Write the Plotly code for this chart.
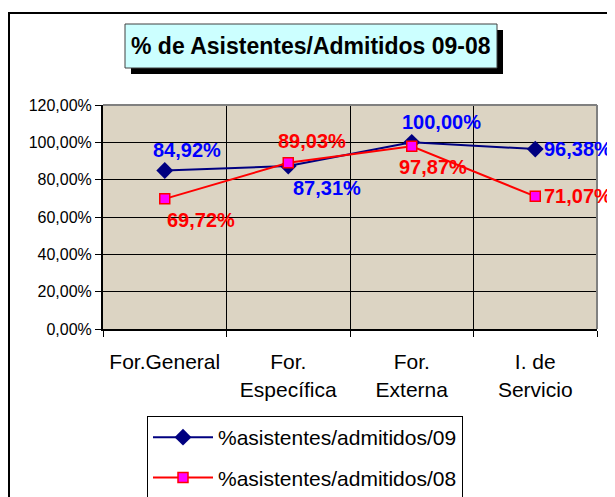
import plotly.graph_objects as go

# --- data -------------------------------------------------------------
categories = ["For.General", "For.<br>Específica", "For.<br>Externa", "I. de<br>Servicio"]
asistentes_09 = [0.8492, 0.8731, 1.0000, 0.9638]
asistentes_08 = [0.6972, 0.8903, 0.9787, 0.7107]
y_ticks = [0.0, 0.2, 0.4, 0.6, 0.8, 1.0, 1.2]
title = "% de Asistentes/Admitidos 09-08"
name_09 = "%asistentes/admitidos/09"
name_08 = "%asistentes/admitidos/08"

# label placement (anchor, xshift, yshift) in pixels, hand-tuned like the Excel original
label_pos_09 = [("center", 22, 20), ("center", 39, -22), ("center", 30, 20), ("left", 7, 0)]
label_pos_08 = [("center", 36, -21), ("center", 24, 22), ("center", 21, -21), ("left", 7, 0)]

W, H = 615, 497
OFF = 8  # page body margin: the figure starts 8px into the window
PLOT_X0, PLOT_X1 = 103, 597  # plot area in window pixels
PLOT_Y0, PLOT_Y1 = 105, 329
L = PLOT_X0 - OFF
T = PLOT_Y0 - OFF
R = W - L - (PLOT_X1 - PLOT_X0)
B = H - T - (PLOT_Y1 - PLOT_Y0)
FONT = "Arial, Liberation Sans, sans-serif"


def px(x):
    # window pixel x -> paper x
    return (x - PLOT_X0) / (PLOT_X1 - PLOT_X0)


def py(y):
    # window pixel y -> paper y
    return (PLOT_Y1 - y) / (PLOT_Y1 - PLOT_Y0)


def pct(v):
    return f"{v * 100:.2f}%".replace(".", ",")


xs = list(range(len(categories)))

fig = go.Figure()
fig.add_trace(go.Scatter(
    x=xs, y=asistentes_09, name=name_09, mode="lines+markers",
    line=dict(color="#000080", width=2),
    marker=dict(symbol="diamond", size=13, color="#000080"),
    legendgroup="09",
))
fig.add_trace(go.Scatter(
    x=xs, y=asistentes_08, name=name_08, mode="lines+markers",
    line=dict(color="#FF0000", width=2),
    marker=dict(symbol="square", size=10, color="#FF00FF",
                line=dict(color="#FF0000", width=1.5)),
    legendgroup="08",
))

annotations = []
for series, places, color in [(asistentes_09, label_pos_09, "#0000FF"),
                              (asistentes_08, label_pos_08, "#FF0000")]:
    for x, v, (anchor, dx, dy) in zip(xs, series, places):
        annotations.append(dict(
            x=x, y=v, xref="x", yref="y", text=f"<b>{pct(v)}</b>",
            showarrow=False, xanchor=anchor, xshift=dx, yshift=dy,
            font=dict(family=FONT, size=20, color=color),
        ))

annotations.append(dict(
    x=px(311), y=py(46), xref="paper", yref="paper",
    text=f"<b>{title}</b>", showarrow=False,
    xanchor="center", yanchor="middle",
    font=dict(family=FONT, size=23, color="black"),
))

shapes = [
    # outer chart frame (runs off the right / bottom edge)
    dict(type="rect", xref="paper", yref="paper",
         x0=px(9), x1=px(640), y0=py(13), y1=py(530),
         line=dict(color="black", width=2), fillcolor="rgba(0,0,0,0)", layer="below"),
    # title shadow + box
    dict(type="rect", xref="paper", yref="paper",
         x0=px(131), x1=px(503), y0=py(74), y1=py(30),
         line=dict(width=0), fillcolor="black"),
    dict(type="rect", xref="paper", yref="paper",
         x0=px(125), x1=px(497), y0=py(68), y1=py(24),
         line=dict(color="#404040", width=1), fillcolor="#CCFFFF"),
    # grey top / right edge of the plot area
    dict(type="line", xref="paper", yref="paper", x0=0, x1=1, y0=1, y1=1,
         line=dict(color="#808080", width=2)),
    dict(type="line", xref="paper", yref="paper", x0=1, x1=1, y0=0, y1=1,
         line=dict(color="#808080", width=2)),
]

fig.update_xaxes(
    range=[-0.5, len(categories) - 0.5], automargin=False,
    tickmode="array", tickvals=xs, ticktext=categories,
    ticks="outside", ticklen=13, tickcolor="rgba(0,0,0,0)",
    tickfont=dict(family=FONT, size=21, color="black"),
    showgrid=False, zeroline=False,
    showline=True, linecolor="black", linewidth=2,
    minor=dict(tickmode="array",
               tickvals=[i - 0.5 for i in range(len(categories) + 1)],
               ticks="outside", ticklen=6, tickcolor="black",
               showgrid=True, gridcolor="black", gridwidth=1),
)
fig.update_yaxes(
    range=[0, 1.2], automargin=False,
    tickmode="array", tickvals=y_ticks, tickformat=".2%",
    ticks="outside", ticklen=6, tickcolor="black",
    tickfont=dict(family=FONT, size=16, color="black"),
    showgrid=True, gridcolor="black", gridwidth=1, zeroline=False,
    showline=True, linecolor="black", linewidth=2,
)

fig.update_layout(
    width=W, height=H,
    margin=dict(l=L, r=R, t=T, b=B, autoexpand=False),
    paper_bgcolor="white", plot_bgcolor="#DCD4C3",
    separators=",.",
    font=dict(family=FONT, color="black"),
    showlegend=True,
    legend=dict(
        xref="container", yref="container",
        x=(147 - OFF) / W, y=1 - (416 - OFF) / H, xanchor="left", yanchor="top",
        bordercolor="black", borderwidth=1, bgcolor="white",
        font=dict(family=FONT, size=21, color="black"),
        tracegroupgap=10, itemwidth=60,
    ),
    annotations=annotations,
    shapes=shapes,
)

fig.write_html("out.html")
